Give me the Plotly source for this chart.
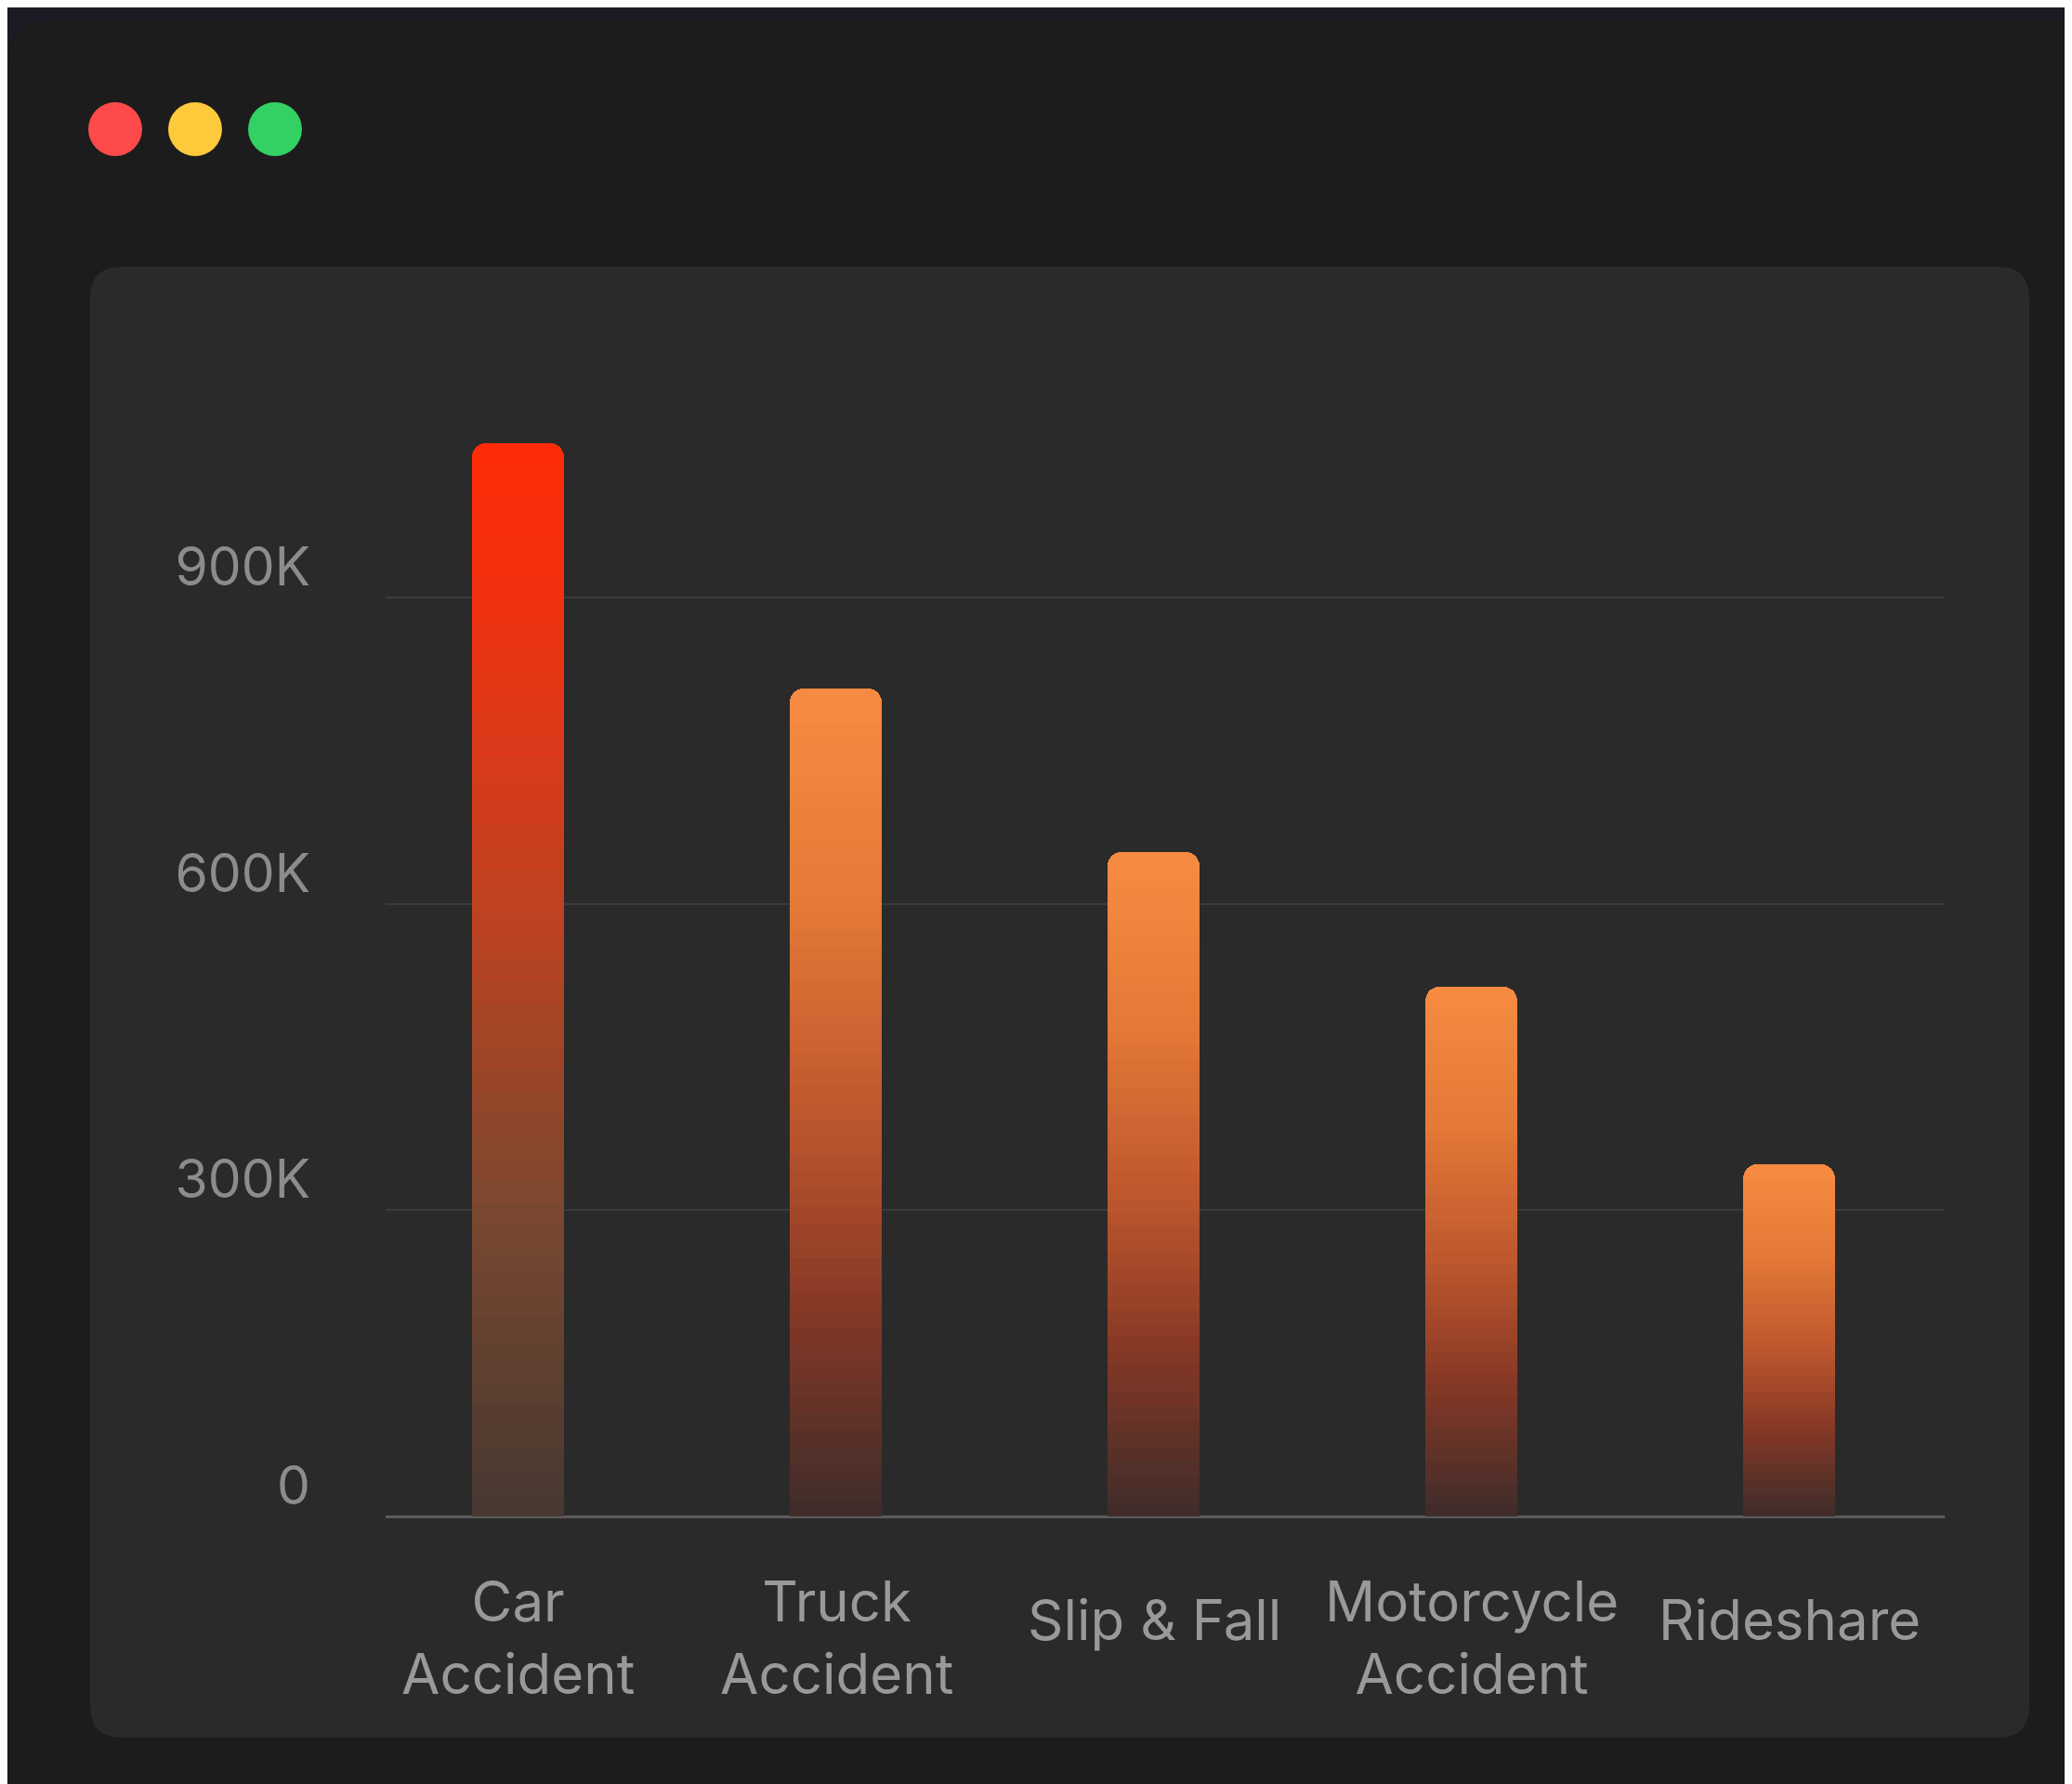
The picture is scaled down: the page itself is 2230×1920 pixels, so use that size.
import plotly.graph_objects as go

# data
categories = ["Car Accident", "Truck Accident", "Slip & Fall", "Motorcycle Accident", "Rideshare"]
tick_labels = ["Car<br>Accident", "Truck<br>Accident", "Slip & Fall", "Motorcycle<br>Accident", "Rideshare"]
values = [1050000, 810000, 650000, 518000, 344000]
y_ticks = [0, 300000, 600000, 900000]
y_tick_labels = ["0", "300K", "600K", "900K"]

W, H = 2230, 1920
OFFSET = 8  # page margin the browser adds around the figure
N_SEG = 48

# gradient stops, bottom (0) -> top (1)
RED_STOPS = [(0.0, (70, 56, 50)), (0.28, (122, 72, 48)), (0.57, (192, 66, 32)),
             (0.85, (240, 50, 18)), (1.0, (255, 42, 6))]
ORANGE_STOPS = [(0.0, (62, 44, 42)), (0.25, (134, 56, 38)), (0.5, (194, 89, 46)),
                (0.75, (229, 122, 56)), (1.0, (246, 139, 64))]
bar_stops = [RED_STOPS, ORANGE_STOPS, ORANGE_STOPS, ORANGE_STOPS, ORANGE_STOPS]


def grad_color(stops, t):
    for (t0, c0), (t1, c1) in zip(stops[:-1], stops[1:]):
        if t0 <= t <= t1:
            f = (t - t0) / (t1 - t0)
            c = [round(a + (b - a) * f) for a, b in zip(c0, c1)]
            return f"rgb({c[0]},{c[1]},{c[2]})"
    c = stops[-1][1]
    return f"rgb({c[0]},{c[1]},{c[2]})"


def px(x):
    return (x - OFFSET) / W


def py(y):
    return 1 - (y - OFFSET) / H


def rounded_rect(x0, y0, x1, y1, r):
    # path in paper coords from pixel box (y down)
    pts = [
        f"M {px(x0 + r)},{py(y0)}",
        f"L {px(x1 - r)},{py(y0)}",
        f"Q {px(x1)},{py(y0)} {px(x1)},{py(y0 + r)}",
        f"L {px(x1)},{py(y1 - r)}",
        f"Q {px(x1)},{py(y1)} {px(x1 - r)},{py(y1)}",
        f"L {px(x0 + r)},{py(y1)}",
        f"Q {px(x0)},{py(y1)} {px(x0)},{py(y1 - r)}",
        f"L {px(x0)},{py(y0 + r)}",
        f"Q {px(x0)},{py(y0)} {px(x0 + r)},{py(y0)}",
        "Z",
    ]
    return " ".join(pts)


fig = go.Figure()

# each bar is a stack of thin slices so it can carry a vertical gradient
for k in range(N_SEG):
    t = (k + 0.5) / N_SEG
    cols = [grad_color(s, t) for s in bar_stops]
    fig.add_trace(go.Bar(
        x=categories,
        y=[v / N_SEG for v in values],
        width=0.287,
        marker=dict(color=cols, line=dict(color=cols, width=1)),
        showlegend=False,
        hoverinfo="skip",
    ))

shapes = [
    # window body
    dict(type="path", path=rounded_rect(10, 22, W + 60, H + 60, 40), xref="paper", yref="paper",
         fillcolor="#1c1c1d", line=dict(width=0), layer="below"),
    # chart card
    dict(type="path", path=rounded_rect(97, 287, 2184, 1870, 34), xref="paper", yref="paper",
         fillcolor="#2a2a2a", line=dict(width=0), layer="below"),
]
for cx, color in [(124, "#fe4a4a"), (210, "#fec93a"), (296, "#33d164")]:
    shapes.append(dict(type="circle", xref="paper", yref="paper",
                       x0=px(cx - 29), x1=px(cx + 29), y0=py(139 + 29), y1=py(139 - 29),
                       fillcolor=color, line=dict(width=0), layer="below"))

annotations = [
    dict(x=c, y=py(1752), xref="x", yref="paper", text=lab, showarrow=False,
         yanchor="middle", xanchor="center", align="center",
         yshift=-10 if "<br>" in lab else 9,
         font=dict(family="Inter, Roboto, sans-serif", size=60, color="#999999"))
    for c, lab in zip(categories, tick_labels)
]

fig.update_layout(
    width=W, height=H,
    margin=dict(l=0, r=0, t=0, b=0, autoexpand=False),
    paper_bgcolor="#1a1b24",
    plot_bgcolor="rgba(0,0,0,0)",
    barmode="stack",
    bargap=0,
    barcornerradius=15,
    shapes=shapes,
    annotations=annotations,
    showlegend=False,
    font=dict(family="Inter, Roboto, sans-serif"),
)
fig.update_xaxes(
    domain=[px(415), px(2093)],
    range=[-0.418, 4.488],
    showticklabels=False,
    showgrid=False,
    zeroline=False,
    showline=False,
    ticks="",
    automargin=False,
)
fig.update_yaxes(
    domain=[py(1632), py(420)],
    range=[0, 1102800],
    tickvals=y_ticks,
    ticktext=y_tick_labels,
    tickfont=dict(family="Inter, Roboto, sans-serif", size=57, color="#8c8c8c"),
    ticklabelstandoff=80,
    ticklabelshift=-33,
    showgrid=True,
    gridcolor="#3b3b3b",
    gridwidth=2,
    zeroline=True,
    zerolinecolor="#5c5c5c",
    zerolinewidth=3,
    showline=False,
    ticks="",
    automargin=False,
)

fig.write_html("out.html")
